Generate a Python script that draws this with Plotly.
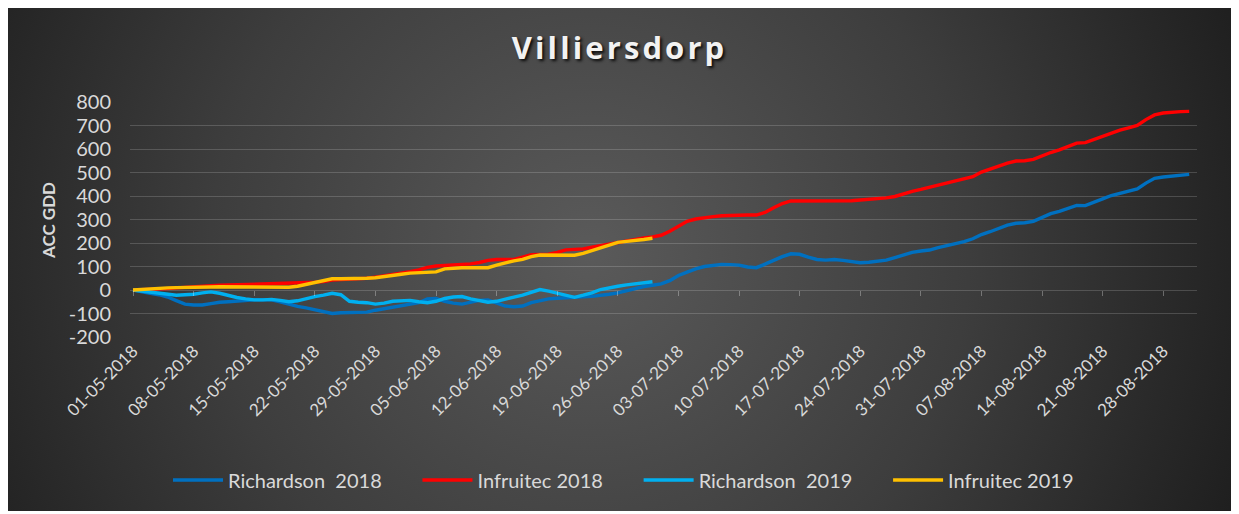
import base64
import pandas as pd
import plotly.graph_objects as go

# ---------------- data ----------------
start_date = "2018-05-01"

richardson_2018 = [
    0, -8, -14, -20, -30, -45, -60, -64, -64, -58,
    -52, -50, -47, -44, -42, -42, -42, -50, -60, -70,
    -76, -84, -95, -100, -97, -95, -94, -94, -86, -80,
    -72, -66, -60, -54, -38, -36, -48, -56, -60, -52,
    -44, -42, -56, -68, -71, -68, -54, -46, -38, -35,
    -34, -31, -29, -27, -24, -18, -12, -2, 8, 15,
    20, 26, 40, 62, 76, 90, 100, 105, 109, 108,
    106, 98, 95, 110, 126, 142, 154, 152, 140, 130,
    127, 130, 126, 120, 116, 118, 122, 127, 138, 150,
    160, 166, 170, 180, 188, 196, 206, 218, 236, 248,
    262, 276, 284, 286, 292, 310, 325, 335, 348, 360,
    359, 372, 388, 402, 412, 420, 430, 455, 475, 481,
    485, 489, 492,
]

infruitec_2018 = [
    0, 1, 2, 3, 6, 9, 12, 14, 16, 18,
    20, 21, 22, 24, 25, 26, 27, 28, 29, 30,
    31, 33, 36, 42, 44, 45, 47, 50, 55, 60,
    65, 72, 78, 86, 96, 102, 104, 105, 107, 111,
    117, 126, 130, 129, 130, 140, 150, 151, 152, 160,
    171, 173, 175, 182, 189, 196, 204, 211, 217, 222,
    226, 233, 250, 272, 292, 302, 308, 312, 316, 318,
    319, 319, 319, 330, 350, 368, 379, 379, 378, 377,
    377, 378, 379, 380, 383, 385, 388, 392, 398, 410,
    420, 428, 437, 444, 455, 463, 472, 482, 502, 515,
    526, 540, 549, 550, 556, 572, 585, 596, 611, 625,
    627, 640, 655, 668, 680, 690, 700, 725, 745, 753,
    757, 759, 760,
]

richardson_2019 = [
    0, -5, -10, -14, -18, -22, -20, -18, -12, -8,
    -14, -24, -32, -38, -42, -42, -40, -44, -50, -46,
    -36, -28, -22, -14, -20, -48, -52, -54, -60, -56,
    -48, -45, -44, -50, -54, -48, -36, -30, -28, -38,
    -45, -52, -48, -38, -30, -22, -10, 2, -5, -14,
    -24, -31, -22, -12, 2, 10, 16, 22, 27, 31,
    35,
]

infruitec_2019 = [
    0, 3, 6, 8, 9, 10, 10, 11, 12, 13,
    14, 14, 14, 14, 14, 14, 13, 12, 12, 16,
    24, 32, 42, 48, 48, 48, 49, 50, 52, 56,
    62, 67, 72, 74, 75, 77, 90, 94, 95, 95,
    95, 95, 106, 116, 124, 130, 142, 149, 149, 148,
    147, 148, 156, 168, 180, 192, 203, 207, 210, 215,
    220,
]

series_names = ["Richardson\u00a0 2018", "Infruitec 2018", "Richardson\u00a0 2019", "Infruitec 2019"]
series_values = [richardson_2018, infruitec_2018, richardson_2019, infruitec_2019]
series_colors = ["#0070C0", "#FF0000", "#00B0F0", "#FFC000"]

y_ticks = [-200, -100, 0, 100, 200, 300, 400, 500, 600, 700, 800]
y_tick_labels = ["-200", "-100", "0", "100", "200", "300", "400", "500", "600", "700", "800"]
tick_dates = pd.date_range(start_date, "2018-08-28", freq="7D")

# ---------------- layout helpers ----------------
# the page body has an 8px default margin; work in reference pixel coords
OFF = 8
W, H = 1239 - OFF, 514 - OFF


def fx(px):
    return (px - OFF) / W


def fy(py):
    return (H - (py - OFF)) / H


dates = pd.date_range(start_date, periods=len(richardson_2018), freq="D")
pad = "\u00a0" * 6

fig = go.Figure()
for name, vals, col in zip(series_names, series_values, series_colors):
    fig.add_trace(go.Scatter(
        x=dates[:len(vals)], y=vals, name=name + pad, mode="lines",
        line=dict(color=col, width=3.4), xaxis="x", yaxis="y",
    ))

# invisible trace for tick-mark axis on the zero line
fig.add_trace(go.Scatter(x=[dates[0]], y=[0], xaxis="x2", yaxis="y",
                         mode="lines", showlegend=False, hoverinfo="skip",
                         line=dict(width=0)))

svg = f"""<svg xmlns='http://www.w3.org/2000/svg' width='{W}' height='{H}' viewBox='0 0 {W} {H}' preserveAspectRatio='none'>
<defs><radialGradient id='g' cx='{590 - OFF}' cy='{250 - OFF}' r='690' gradientUnits='userSpaceOnUse'>
<stop offset='0' stop-color='#5a5a5a'/><stop offset='0.55' stop-color='#3d3d3d'/><stop offset='1' stop-color='#1f1f1f'/>
</radialGradient></defs>
<rect x='0' y='0' width='{W}' height='{H}' fill='#ffffff'/>
<rect x='0' y='0' width='{1232 - OFF}' height='{511 - OFF}' fill='url(#g)'/>
</svg>"""
src = "data:image/svg+xml;base64," + base64.b64encode(svg.encode()).decode()

grid_col = "rgba(255,255,255,0.17)"
font_col = "#d9d9d9"
fam = "Lato, 'Open Sans', sans-serif"

x_range = ["2018-04-30 15:36", "2018-08-31 21:36"]
x_dom = [fx(130), fx(1197)]
y_dom = [fy(337), fy(102)]

title_text = "\u200a".join("Villiersdorp")

fig.update_layout(
    width=W, height=H, autosize=False,
    margin=dict(l=0, r=0, t=0, b=0, pad=0, autoexpand=False),
    paper_bgcolor="#ffffff", plot_bgcolor="rgba(0,0,0,0)",
    images=[dict(source=src, xref="paper", yref="paper", x=0, y=1,
                 sizex=1, sizey=1, xanchor="left", yanchor="top",
                 sizing="stretch", layer="below")],
    title=dict(text="<b>" + title_text + "</b>", x=fx(618), xanchor="center",
               y=fy(48), yanchor="middle", yref="paper", xref="paper",
               font=dict(family="'Open Sans', sans-serif", size=31, color="#f2f2f2",
                         shadow="2px 2px 3px rgba(0,0,0,0.85)")),
    xaxis=dict(domain=x_dom, range=x_range, type="date", automargin=False,
               tickmode="array", tickvals=list(tick_dates),
               ticktext=[d.strftime("%d-%m-%Y") for d in tick_dates],
               tickangle=-45, showgrid=False, zeroline=False, showline=False,
               ticks="", tickfont=dict(family=fam, size=17, color=font_col),
               anchor="y"),
    xaxis2=dict(domain=x_dom, range=x_range, type="date", overlaying="x",
                anchor="free", position=fy(290), side="bottom", automargin=False,
                tickmode="array", tickvals=list(tick_dates),
                ticks="outside", ticklen=5, tickwidth=1, tickcolor="rgba(255,255,255,0.3)",
                showticklabels=False, showgrid=False, zeroline=False, showline=False),
    yaxis=dict(domain=y_dom, range=[-200, 800], tickmode="array", tickvals=y_ticks,
               ticktext=y_tick_labels, automargin=False,
               showgrid=True, gridcolor=grid_col, gridwidth=1, zeroline=False,
               showline=False, ticks="", ticklabelstandoff=18,
               tickfont=dict(family=fam, size=20, color=font_col)),
    legend=dict(orientation="h", x=fx(639), xanchor="center", y=fy(480),
                yanchor="middle", font=dict(family=fam, size=20, color=font_col),
                bgcolor="rgba(0,0,0,0)", itemwidth=50),
    annotations=[dict(text="<b>ACC GDD</b>", textangle=-90, xref="paper", yref="paper",
                      x=fx(48), y=fy(220), xanchor="center", yanchor="middle",
                      showarrow=False,
                      font=dict(family=fam, size=17, color=font_col))],
    showlegend=True,
)

fig.write_html("out.html")
